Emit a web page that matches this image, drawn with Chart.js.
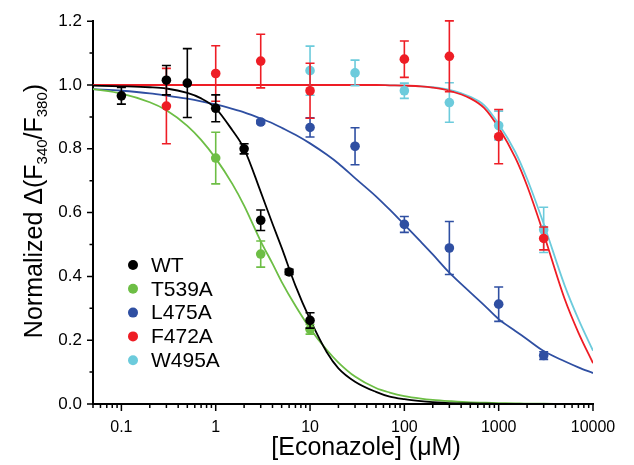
<!DOCTYPE html>
<html><head><meta charset="utf-8">
<script src="https://cdn.jsdelivr.net/npm/chart.js@4/dist/chart.umd.min.js"></script>
<style>html,body{margin:0;padding:0;background:#fff;}</style>
</head><body>
<canvas id="c" width="634" height="465"></canvas>
<script>
// ---------- data ----------
const seriesNames = ['WT', 'T539A', 'L475A', 'F472A', 'W495A'];

// measured points (mean, error)
const wtX = [0.1, 0.3, 0.5, 1, 2, 3, 6, 10];
const wtY = [0.966, 1.015, 1.006, 0.927, 0.800, 0.576, 0.414, 0.262];
const wtErr = [0.026, 0.046, 0.108, 0.042, 0.016, 0.032, 0.008, 0.024];

const t539aX = [1, 3, 10];
const t539aY = [0.771, 0.470, 0.234];
const t539aErr = [0.081, 0.041, 0.015];

const l475aX = [3, 10, 30, 100, 300, 1000, 3000];
const l475aY = [0.884, 0.867, 0.808, 0.563, 0.489, 0.313, 0.152];
const l475aErr = [0.005, 0.030, 0.058, 0.025, 0.083, 0.054, 0.012];

const f472aX = [0.3, 1, 3, 10, 100, 300, 1000, 3000];
const f472aY = [0.934, 1.036, 1.075, 0.982, 1.081, 1.090, 0.838, 0.519];
const f472aErr = [0.118, 0.087, 0.084, 0.086, 0.057, 0.111, 0.085, 0.036];

const w495aX = [10, 30, 100, 300, 1000, 3000];
const w495aY = [1.045, 1.038, 0.982, 0.945, 0.873, 0.546];
const w495aErr = [0.077, 0.040, 0.024, 0.062, 0.045, 0.071];

// fitted curves
const fitX = [0.05, 0.1, 0.2, 0.3, 0.5, 0.7, 1, 1.5, 2, 3, 4, 5, 7, 10, 15, 20, 30, 50, 70, 100, 150, 200, 300, 500, 700, 1000, 1500, 2000, 3000, 5000, 7000, 10000];
const wtFit = [0.998, 0.996, 0.993, 0.989, 0.975, 0.958, 0.927, 0.858, 0.800, 0.665, 0.565, 0.490, 0.371, 0.265, 0.163, 0.112, 0.070, 0.038, 0.023, 0.015, 0.009, 0.006, 0.003, 0.0015, 0.001, 0.0005, 0, 0, 0, 0, 0, 0];
const t539aFit = [0.987, 0.973, 0.946, 0.921, 0.872, 0.828, 0.770, 0.690, 0.622, 0.510, 0.440, 0.383, 0.308, 0.237, 0.170, 0.130, 0.086, 0.050, 0.036, 0.025, 0.017, 0.013, 0.009, 0.005, 0.004, 0.003, 0.002, 0.001, 0.001, 0, 0, 0];
const l475aFit = [0.987, 0.982, 0.974, 0.967, 0.957, 0.949, 0.939, 0.925, 0.914, 0.895, 0.880, 0.866, 0.844, 0.817, 0.782, 0.754, 0.708, 0.651, 0.609, 0.562, 0.508, 0.469, 0.412, 0.350, 0.310, 0.266, 0.229, 0.203, 0.166, 0.134, 0.115, 0.097];
const f472aFit = [1, 1, 1, 1, 1, 1, 1, 1, 1, 1, 1, 1, 1, 1, 1, 1, 1, 1, 0.999, 0.998, 0.996, 0.992, 0.982, 0.958, 0.928, 0.866, 0.772, 0.684, 0.533, 0.330, 0.224, 0.128];
const w495aFit = [1, 1, 1, 1, 1, 1, 1, 1, 1, 1, 1, 1, 1, 1, 1, 1, 1, 1, 0.999, 0.998, 0.996, 0.993, 0.985, 0.963, 0.937, 0.878, 0.790, 0.706, 0.565, 0.372, 0.266, 0.167];

// axes
const xMajorTicks = [0.1, 1, 10, 100, 1000, 10000];
const xTickLabels = ['0.1', '1', '10', '100', '1000', '10000'];
const xMinorMultipliers = [2, 3, 4, 5, 6, 7, 8, 9];
const yMajorTicks = [0, 0.2, 0.4, 0.6, 0.8, 1.0, 1.2];
const yTickLabels = ['0.0', '0.2', '0.4', '0.6', '0.8', '1.0', '1.2'];
const yMinorTicks = [0.1, 0.3, 0.5, 0.7, 0.9, 1.1];
const xTitle = '[Econazole] (\u03BCM)';
const yTitleParts = [['Normalized \u0394(F', false], ['340', true], ['/F', false], ['380', true], [')', false]];

// ---------- styles ----------
const colors = ['#000000', '#6dbe45', '#2f4fa2', '#ee1d25', '#6ccbdc'];
const FONT = '"Liberation Sans", Arial, Helvetica, sans-serif';
Chart.defaults.font.family = FONT;
Chart.defaults.color = '#000';

const pts = (xs, ys) => xs.map((x, i) => ({ x: x, y: ys[i] }));

const pointSeries = [
  [wtX, wtY, wtErr], [t539aX, t539aY, t539aErr], [l475aX, l475aY, l475aErr],
  [f472aX, f472aY, f472aErr], [w495aX, w495aY, w495aErr]
];
const fitSeries = [wtFit, t539aFit, l475aFit, f472aFit, w495aFit];
const pointOrder = [0, 4, 3, 1, 2];
const curveOrder = [10, 11, 12, 13, 14];

const datasets = [];
fitSeries.forEach((f, i) => {
  datasets.push({
    label: seriesNames[i] + ' fit', data: pts(fitX, f), showLine: true,
    borderColor: colors[i], borderWidth: 1.8, pointRadius: 0, fill: false,
    cubicInterpolationMode: 'monotone', order: curveOrder[i]
  });
});
pointSeries.forEach((s, i) => {
  datasets.push({
    label: seriesNames[i], data: pts(s[0], s[1]), errs: s[2], showLine: false,
    backgroundColor: colors[i], borderColor: colors[i], borderWidth: 0,
    pointRadius: 4.8, pointHoverRadius: 4.8, order: pointOrder[i]
  });
});

const xMinorTicks = [];
[0.01, 0.1, 1, 10, 100, 1000].forEach(d => xMinorMultipliers.forEach(m => {
  const v = +(d * m).toPrecision(3);
  if (v >= 0.05 && v <= 10000) xMinorTicks.push(v);
}));

const errorBars = {
  id: 'errorBars',
  beforeDatasetDraw(chart, args) {
    const ds = chart.data.datasets[args.index];
    if (!ds.errs) return;
    const ctx = chart.ctx, xs = chart.scales.x, ys = chart.scales.y;
    ctx.save();
    ctx.strokeStyle = ds.borderColor; ctx.lineWidth = 1.6;
    ds.data.forEach((p, i) => {
      const e = ds.errs[i];
      const px = xs.getPixelForValue(p.x);
      const top = ys.getPixelForValue(p.y + e), bot = ys.getPixelForValue(p.y - e);
      ctx.beginPath();
      ctx.moveTo(px, top); ctx.lineTo(px, bot);
      ctx.moveTo(px - 4.5, top); ctx.lineTo(px + 4.5, top);
      ctx.moveTo(px - 4.5, bot); ctx.lineTo(px + 4.5, bot);
      ctx.stroke();
    });
    ctx.restore();
  }
};

const decorations = {
  id: 'decorations',
  afterDraw(chart) {
    const ctx = chart.ctx, xs = chart.scales.x, ys = chart.scales.y, a = chart.chartArea;
    ctx.save();
    ctx.strokeStyle = '#000'; ctx.lineWidth = 1.5;
    ctx.beginPath();
    yMajorTicks.forEach(v => { const y = ys.getPixelForValue(v); ctx.moveTo(a.left - 6, y); ctx.lineTo(a.left, y); });
    yMinorTicks.forEach(v => { const y = ys.getPixelForValue(v); ctx.moveTo(a.left - 3.5, y); ctx.lineTo(a.left, y); });
    xMajorTicks.forEach(v => { const x = xs.getPixelForValue(v); ctx.moveTo(x, a.bottom); ctx.lineTo(x, a.bottom + 7); });
    xMinorTicks.forEach(v => { const x = xs.getPixelForValue(v); ctx.moveTo(x, a.bottom); ctx.lineTo(x, a.bottom + 4); });
    ctx.stroke();

    // x title
    ctx.fillStyle = '#000';
    ctx.font = '25px ' + FONT;
    ctx.textAlign = 'center'; ctx.textBaseline = 'alphabetic';
    ctx.fillText(xTitle, 366, 455);

    // y title with subscripts
    ctx.save();
    ctx.translate(42, 211);
    ctx.rotate(-Math.PI / 2);
    ctx.textAlign = 'left';
    let total = 0;
    yTitleParts.forEach(([t, sub]) => { ctx.font = (sub ? '15px ' : '25px ') + FONT; total += ctx.measureText(t).width; });
    let cx = -total / 2;
    yTitleParts.forEach(([t, sub]) => {
      ctx.font = (sub ? '15px ' : '25px ') + FONT;
      ctx.fillText(t, cx, sub ? 5 : 0);
      cx += ctx.measureText(t).width;
    });
    ctx.restore();

    // legend
    ctx.font = '21px ' + FONT;
    ctx.textAlign = 'left'; ctx.textBaseline = 'middle';
    seriesNames.forEach((n, i) => {
      const y = 265 + i * 23.8;
      ctx.fillStyle = colors[i];
      ctx.beginPath(); ctx.arc(133, y, 5, 0, Math.PI * 2); ctx.fill();
      ctx.fillStyle = '#000';
      ctx.fillText(n, 151, y + 1);
    });
    ctx.restore();
  }
};

new Chart(document.getElementById('c'), {
  type: 'scatter',
  data: { datasets },
  options: {
    responsive: false, animation: false, devicePixelRatio: 1,
    layout: { padding: { top: 15, right: 41, left: 0, bottom: 0 } },
    plugins: { legend: { display: false }, tooltip: { enabled: false } },
    scales: {
      x: {
        type: 'logarithmic', min: 0.05, max: 10000, position: 'bottom',
        grid: { display: false, drawTicks: false },
        border: { display: true, color: '#000', width: 2 },
        ticks: { autoSkip: false, maxRotation: 0, minRotation: 0, padding: 14, color: '#000', font: { size: 16 },
                 callback: (v, i) => xTickLabels[i] },
        afterBuildTicks: s => { s.ticks = xMajorTicks.map(v => ({ value: v })); },
        afterFit: s => { s.height = 61; }
      },
      y: {
        min: 0, max: 1.2, position: 'left',
        grid: { display: false, drawTicks: false },
        border: { display: true, color: '#000', width: 2 },
        ticks: { padding: 11, color: '#000', font: { size: 17 }, callback: (v, i) => yTickLabels[i] },
        afterBuildTicks: s => { s.ticks = yMajorTicks.map(v => ({ value: v })); },
        afterFit: s => { s.width = 93; }
      }
    }
  },
  plugins: [errorBars, decorations]
});
</script>
</body></html>
